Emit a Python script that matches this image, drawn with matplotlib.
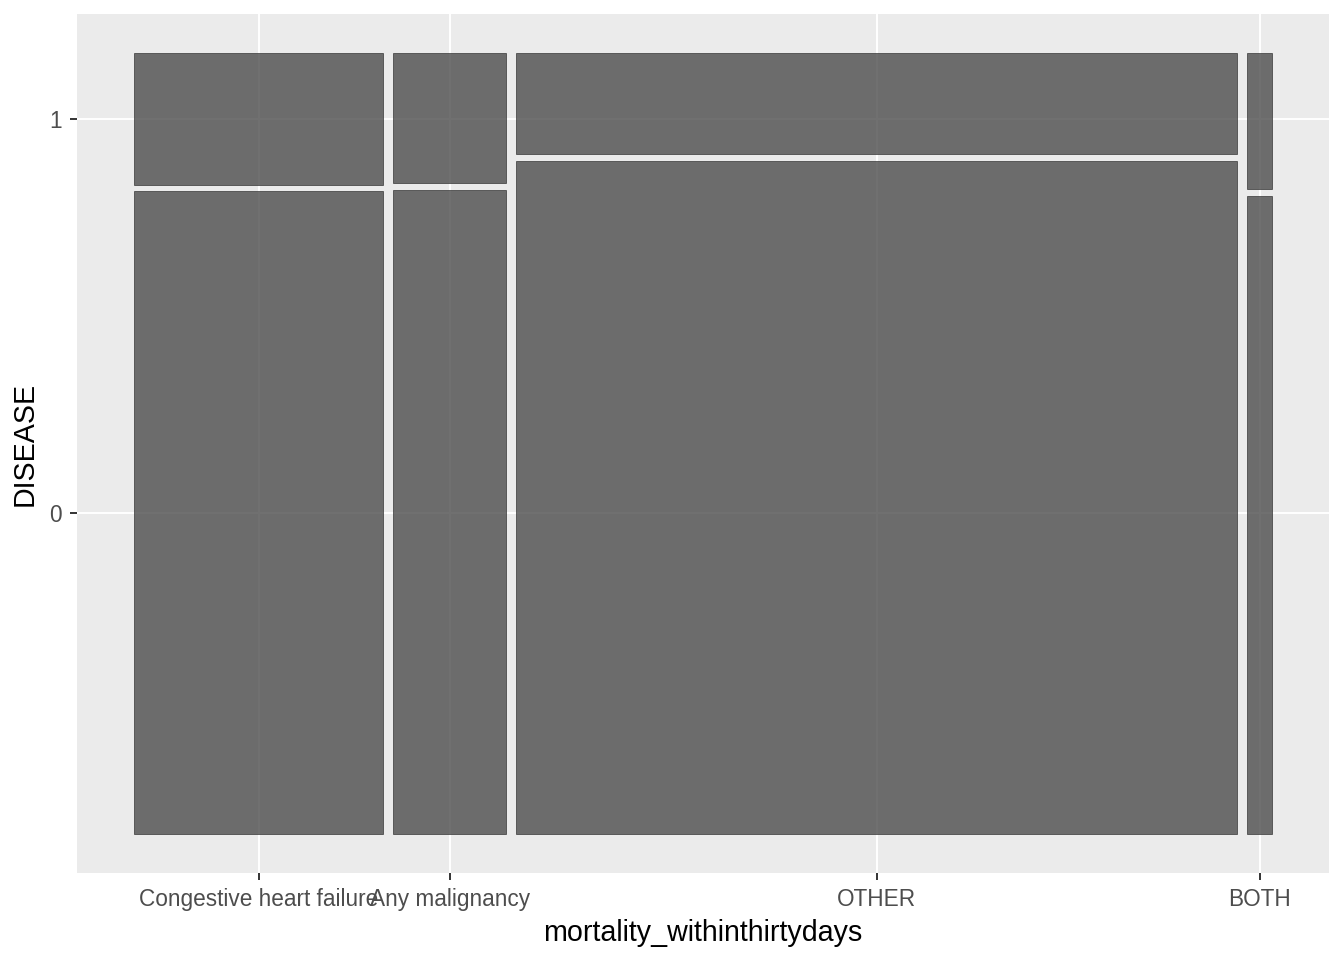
import matplotlib
matplotlib.use("Agg")
import matplotlib.pyplot as plt
from matplotlib.patches import Rectangle

# Data
categories = ["Congestive heart failure", "Any malignancy", "OTHER", "BOTH"]
col_share = [0.2252, 0.1018, 0.6505, 0.0225]   # share of cases per mortality category
disease_levels = ["0", "1"]
share_disease1 = [0.170, 0.168, 0.131, 0.176]  # share with DISEASE == 1 in each column

plt.rcParams['font.family'] = ['Liberation Sans', 'DejaVu Sans']

fig = plt.figure(figsize=(13.44, 9.6), dpi=100)
ax = fig.add_axes([77/1344, 1-873/960, (1329-77)/1344, (873-14)/960])
ax.set_facecolor('#ebebeb')

gx = 10/1110   # horizontal spacing between columns
gy = 6.6/776   # vertical spacing between tiles

x0 = 0.0
xcenters = []
first_y_centers = None
for i, (w, p1) in enumerate(zip(col_share, share_disease1)):
    h0 = 1 - p1
    h1 = p1
    ax.add_patch(Rectangle((x0, 0), w, h0, facecolor='#4d4d4d', edgecolor='#333333',
                           linewidth=0.6, alpha=0.8, zorder=3))
    ax.add_patch(Rectangle((x0, h0 + gy), w, h1, facecolor='#4d4d4d', edgecolor='#333333',
                           linewidth=0.6, alpha=0.8, zorder=3))
    xcenters.append(x0 + w/2)
    if first_y_centers is None:
        first_y_centers = [h0/2, h0 + gy + h1/2]
    x0 += w + gx

Sx = x0 - gx
Sy = 1 + gy
ax.set_xlim(-0.05*Sx, 1.05*Sx)
ax.set_ylim(-0.05*Sy, 1.05*Sy)

ax.set_xticks(xcenters)
ax.set_xticklabels(categories)
ax.set_yticks(first_y_centers)
ax.set_yticklabels(disease_levels)

ax.grid(True, color='white', linewidth=1.4, zorder=0)
ax.set_axisbelow(True)
for s in ax.spines.values():
    s.set_visible(False)
ax.tick_params(axis='both', colors='#333333', length=5.3, width=1.4,
               labelsize=16.3, labelcolor='#4d4d4d', pad=5.5)

ax.set_xlabel('mortality_withinthirtydays', fontsize=20.6, color='black', labelpad=6)
ax.set_ylabel('DISEASE', fontsize=20.6, color='black', labelpad=8)

fig.savefig('out.png', dpi=100, facecolor='white')
